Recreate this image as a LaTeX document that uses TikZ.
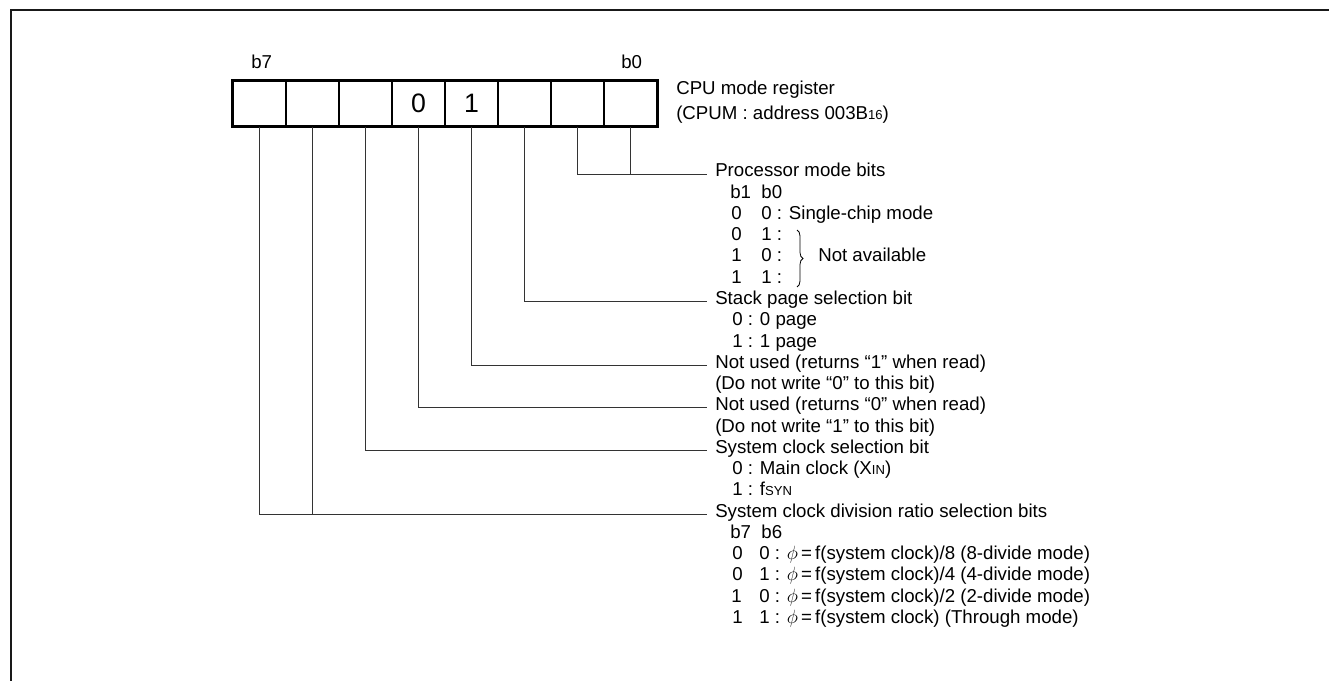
\documentclass[tikz,border=0pt]{standalone}
\usepackage{fontspec}
\setmainfont{Liberation Sans}
\usetikzlibrary{decorations.pathreplacing}
\begin{document}
\begin{tikzpicture}[x=0.75pt,y=-0.75pt,
  txt/.style={anchor=base west,inner sep=0pt,font=\fontsize{14pt}{16pt}\selectfont},
  cell/.style={draw,line width=1.1pt,minimum width=39.75pt,minimum height=33.75pt,inner sep=0pt,font=\fontsize{20pt}{20pt}\selectfont},
  lead/.style={line width=0.7pt,draw=black!80},
  frame/.style={line width=2pt,draw=black!90}]
\useasboundingbox (0,0) rectangle (1329,681);
\newcommand{\sm}[1]{{\fontsize{9.8pt}{10pt}\selectfont #1}}
% frame
\draw[frame] (11,681) -- (11,10) -- (1329,10);
% register
\node[cell] (c7) at (259.5,103.5) {};
\node[cell] (c6) at (312.5,103.5) {};
\node[cell] (c5) at (365.5,103.5) {};
\node[cell] (c4) at (418.5,103.5) {0};
\node[cell] (c3) at (471.5,103.5) {1};
\node[cell] (c2) at (524.5,103.5) {};
\node[cell] (c1) at (577.5,103.5) {};
\node[cell] (c0) at (630.5,103.5) {};
\draw[line width=1.8pt] (c7.north west) rectangle (c0.south east);
\node[txt] (lb7) at (251,69) {b7};
\node[txt] (lb0) at (621,69) {b0};
\node[txt] (reg1) at (676,95) {CPU mode register};
\node[txt] (reg2) at (676,120) {(CPUM : address 003B\sm{16})};
% leader end points
\coordinate (e0) at (707,174);
\coordinate (e2) at (707,301.5);
\coordinate (e3) at (707,365.25);
\coordinate (e4) at (707,407.75);
\coordinate (e5) at (707,450.25);
\coordinate (e7) at (707,514);
\draw[lead] (c1.south) |- (e0);
\draw[lead] (c0.south) -- (c0.south |- e0);
\draw[lead] (c2.south) |- (e2);
\draw[lead] (c3.south) |- (e3);
\draw[lead] (c4.south) |- (e4);
\draw[lead] (c5.south) |- (e5);
\draw[lead] (c7.south) |- (e7);
\draw[lead] (c6.south) -- (c6.south |- e7);
% processor mode bits
\node[txt] (p0) at (715,177) {Processor mode bits};
\node[txt] (p1) at (730,198.25) {b1\ \ b0};
\node[txt] (p2a) at (731,219.5) {0};
\node[txt] (p2b) at (761,219.5) {0 : Single-chip mode};
\node[txt] (p3a) at (731,240.75) {0};
\node[txt] (p3b) at (761,240.75) {1 :};
\node[txt] (p4a) at (731,262) {1};
\node[txt] (p4b) at (761,262) {0 :};
\node[txt] (p5a) at (731,283.25) {1};
\node[txt] (p5b) at (761,283.25) {1 :};
\draw[line width=0.6pt,decorate,decoration={brace,amplitude=4.5pt}] (797,230) -- (797,287);
\node[txt] (na) at (818,262) {Not available};
% stack page
\node[txt] (s0) at (715,304.5) {Stack page selection bit};
\node[txt] (s1) at (732,325.75) {0 : 0 page};
\node[txt] (s2) at (732,347) {1 : 1 page};
% not used
\node[txt] (n1) at (715,368.25) {Not used (returns “1” when read)};
\node[txt] (n1b) at (715,389.5) {(Do not write “0” to this bit)};
\node[txt] (n0) at (715,410.75) {Not used (returns “0” when read)};
\node[txt] (n0b) at (715,432) {(Do not write “1” to this bit)};
% system clock selection
\node[txt] (k0) at (715,453.25) {System clock selection bit};
\node[txt] (k1) at (732,474.5) {0 : Main clock (X\sm{IN})};
\node[txt] (k2) at (732,495.75) {1 : f\sm{SYN}};
% division ratio
\node[txt] (d0) at (715,517) {System clock division ratio selection bits};
\node[txt] (d1) at (730,538.25) {b7\ \ b6};
\node[txt] (d2a) at (732,559.5) {0};
\node[txt] (d2b) at (759,559.5) {0 : $\phi$\,=\,f(system clock)/8 (8-divide mode)};
\node[txt] (d3a) at (732,580.75) {0};
\node[txt] (d3b) at (759,580.75) {1 : $\phi$\,=\,f(system clock)/4 (4-divide mode)};
\node[txt] (d4a) at (731,602) {1};
\node[txt] (d4b) at (759,602) {0 : $\phi$\,=\,f(system clock)/2 (2-divide mode)};
\node[txt] (d5a) at (732,623.25) {1};
\node[txt] (d5b) at (759,623.25) {1 : $\phi$\,=\,f(system clock) (Through mode)};
\end{tikzpicture}
\end{document}
